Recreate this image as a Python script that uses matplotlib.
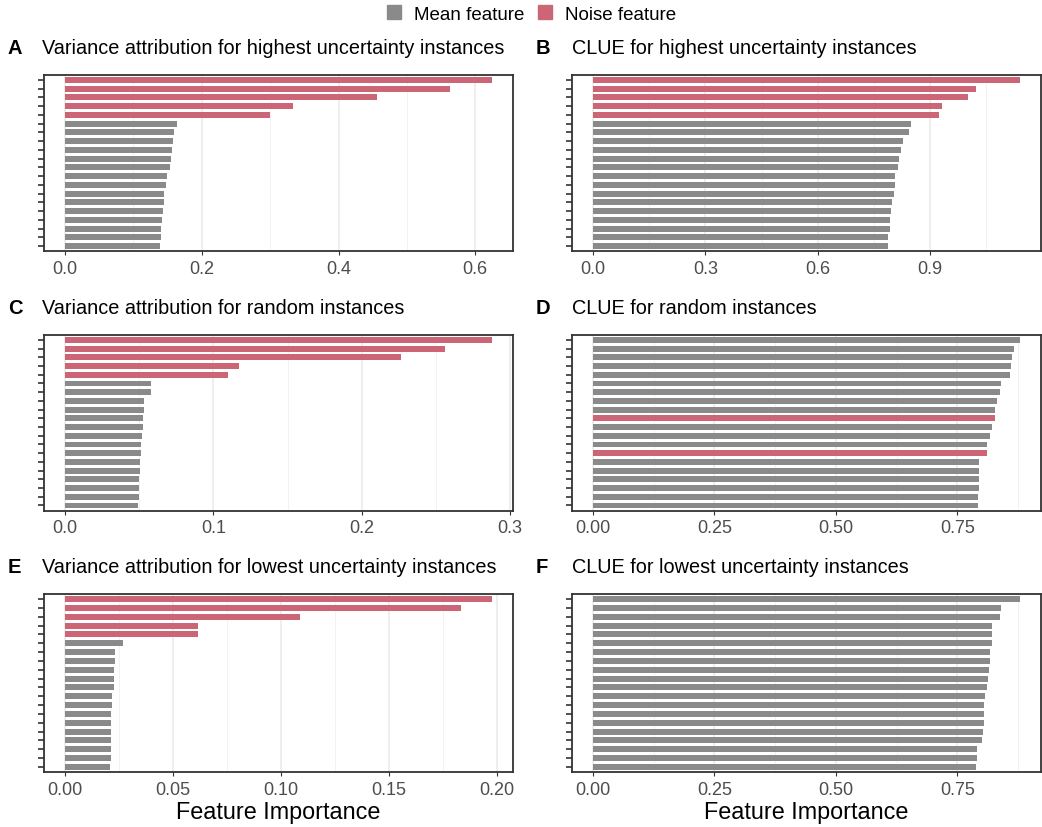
import matplotlib.pyplot as plt
from matplotlib.patches import Patch
import numpy as np

plt.rcParams['font.family'] = ['Liberation Sans', 'DejaVu Sans']

GRAY = "#8A8A8A"
RED = "#CC6677"

# values read top to bottom, noise flags per bar
var_high = [0.624, 0.563, 0.4565, 0.334, 0.2995, 0.164, 0.160, 0.1585, 0.157, 0.1556,
            0.154, 0.1497, 0.148, 0.145, 0.145, 0.144, 0.1425, 0.141, 0.141, 0.1396]
var_high_noise = [1, 1, 1, 1, 1] + [0] * 15

clue_high = [1.139, 1.022, 1.001, 0.932, 0.924, 0.850, 0.844, 0.828, 0.823, 0.818,
             0.815, 0.807, 0.807, 0.804, 0.799, 0.796, 0.794, 0.794, 0.788, 0.788]
clue_high_noise = [1, 1, 1, 1, 1] + [0] * 15

var_rand = [0.2876, 0.2561, 0.2266, 0.1173, 0.110, 0.0577, 0.0577, 0.053, 0.053, 0.0523,
            0.0523, 0.0516, 0.051, 0.051, 0.0503, 0.0503, 0.0496, 0.0496, 0.0496, 0.0489]
var_rand_noise = [1, 1, 1, 1, 1] + [0] * 15

clue_rand = [0.8785, 0.866, 0.862, 0.860, 0.858, 0.8396, 0.8375, 0.8314, 0.827, 0.827,
             0.821, 0.817, 0.811, 0.811, 0.7945, 0.7945, 0.7945, 0.7945, 0.7925, 0.7925]
clue_rand_noise = [0] * 9 + [1] + [0] * 3 + [1] + [0] * 6

var_low = [0.1975, 0.1833, 0.1087, 0.0617, 0.0617, 0.0267, 0.023, 0.023, 0.0226, 0.0226,
           0.0226, 0.0216, 0.0216, 0.0212, 0.0212, 0.0212, 0.0212, 0.0212, 0.0212, 0.0207]
var_low_noise = [1, 1, 1, 1, 1] + [0] * 15

clue_low = [0.8785, 0.8396, 0.8375, 0.821, 0.821, 0.821, 0.817, 0.817, 0.815, 0.813,
            0.811, 0.807, 0.805, 0.805, 0.805, 0.803, 0.801, 0.790, 0.790, 0.788]
clue_low_noise = [0] * 20

panels = [
    ("A", "Variance attribution for highest uncertainty instances", var_high, var_high_noise,
     [0, 0.2, 0.4, 0.6], ["0.0", "0.2", "0.4", "0.6"]),
    ("B", "CLUE for highest uncertainty instances", clue_high, clue_high_noise,
     [0, 0.3, 0.6, 0.9], ["0.0", "0.3", "0.6", "0.9"]),
    ("C", "Variance attribution for random instances", var_rand, var_rand_noise,
     [0, 0.1, 0.2, 0.3], ["0.0", "0.1", "0.2", "0.3"]),
    ("D", "CLUE for random instances", clue_rand, clue_rand_noise,
     [0, 0.25, 0.5, 0.75], ["0.00", "0.25", "0.50", "0.75"]),
    ("E", "Variance attribution for lowest uncertainty instances", var_low, var_low_noise,
     [0, 0.05, 0.1, 0.15, 0.2], ["0.00", "0.05", "0.10", "0.15", "0.20"]),
    ("F", "CLUE for lowest uncertainty instances", clue_low, clue_low_noise,
     [0, 0.25, 0.5, 0.75], ["0.00", "0.25", "0.50", "0.75"]),
]

W, H = 1042, 828
fig = plt.figure(figsize=(W / 100, H / 100), dpi=100)

lefts = [43.7, 571.7]
tops = [75.7, 335.7, 594.7]
bottoms = [252.3, 511.7, 773.3]
width = 469.3

for i, (letter, title, vals, noise, ticks, labels) in enumerate(panels):
    row, col = divmod(i, 2)
    l, t, b = lefts[col], tops[row], bottoms[row]
    ax = fig.add_axes([l / W, 1 - b / H, width / W, (b - t) / H])
    n = len(vals)
    ypos = np.arange(n)[::-1] + 1
    colors = [RED if f else GRAY for f in noise]
    ax.barh(ypos, vals, height=0.68, color=colors, zorder=3)
    vmax = max(vals)
    ax.set_xlim(-0.05 * vmax, 1.05 * vmax)
    ax.set_ylim(0.4, n + 0.6)
    ax.set_xticks(ticks)
    ax.set_xticklabels(labels)
    minors = [(ticks[k] + ticks[k + 1]) / 2 for k in range(len(ticks) - 1)]
    if ticks[-1] + (ticks[1] - ticks[0]) / 2 < 1.05 * vmax:
        minors.append(ticks[-1] + (ticks[1] - ticks[0]) / 2)
    ax.set_xticks(minors, minor=True)
    ax.grid(axis='x', which='major', color='#EBEBEB', lw=1.2, zorder=0)
    ax.grid(axis='x', which='minor', color='#F2F2F2', lw=0.7, zorder=0)
    ax.set_yticks(ypos)
    ax.set_yticklabels([])
    ax.tick_params(axis='y', length=4.5, width=1.2, color='#333333')
    ax.tick_params(axis='x', which='major', length=3, width=0.8, color='#333333',
                   labelsize=13, labelcolor='#4D4D4D', pad=3)
    ax.tick_params(axis='x', which='minor', length=0)
    for s in ax.spines.values():
        s.set_color('#333333')
        s.set_linewidth(1.3)
    ty = t - 27.5
    fig.text((8 if col == 0 else 536) / W, 1 - ty / H, letter, fontsize=14.5,
             fontweight='bold', va='center', ha='left')
    fig.text((42 if col == 0 else 572) / W, 1 - ty / H, title, fontsize=14.3,
             va='center', ha='left')
    if row == 2:
        ax.set_xlabel("Feature Importance", fontsize=16.8, labelpad=2)

handles = [Patch(color=GRAY, label="Mean feature"), Patch(color=RED, label="Noise feature")]
fig.legend(handles=handles, loc='center', bbox_to_anchor=(531.5 / W, 1 - 15 / H), ncol=2,
           frameon=False, fontsize=13.5, handlelength=0.77, handleheight=0.77,
           handletextpad=0.7, columnspacing=0.68, borderaxespad=0)

fig.savefig("out.png", dpi=100)
